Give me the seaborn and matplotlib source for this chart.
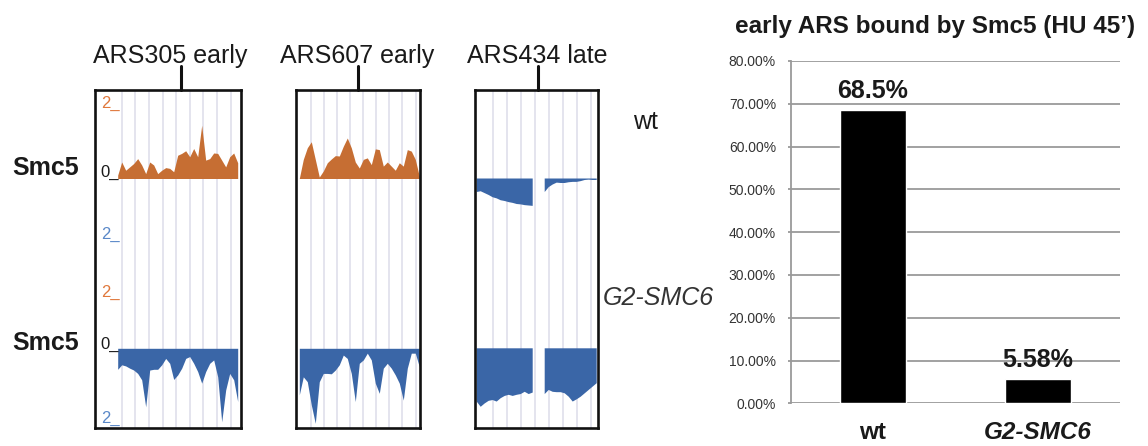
import numpy as np
import pandas as pd
import matplotlib
matplotlib.use("Agg")
import matplotlib.pyplot as plt
import seaborn as sns
from matplotlib.ticker import PercentFormatter
from matplotlib.lines import Line2D

# ---------------- data ----------------
nan = np.nan
loci = ["ARS305 early", "ARS607 early", "ARS434 late"]
strain_rows = ["wt", "G2-SMC6"]

# Smc5 ChIP signal (4-px bins); positive = orange, negative = blue
ars305_wt = [0.09, 0.44, 0.22, 0.31, 0.40, 0.53, 0.36, 0.13, 0.44, 0.36, 0.13,
             0.22, 0.29, 0.27, 0.18, 0.62, 0.67, 0.74, 0.58, 0.80, 0.58, 1.42,
             0.49, 0.53, 0.68, 0.67, 0.49, 0.31, 0.58, 0.68, 0.42]
ars305_g2 = [-0.56, -0.44, -0.47, -0.53, -0.58, -0.67, -0.84, -1.56, -0.58,
             -0.56, -0.56, -0.44, -0.27, -0.40, -0.83, -0.71, -0.53, -0.27,
             -0.22, -0.40, -0.62, -0.93, -0.62, -0.40, -0.31, -0.76, -1.96,
             -1.11, -0.67, -0.84, -1.42]
ars607_wt = [0.0, 0.51, 0.82, 0.98, 0.51, 0.04, 0.20, 0.42, 0.52, 0.61, 0.60,
             0.86, 1.08, 0.82, 0.44, 0.28, 0.51, 0.55, 0.37, 0.79, 0.77, 0.33,
             0.44, 0.33, 0.22, 0.42, 0.33, 0.77, 0.73, 0.51, 0.06]
ars607_g2 = [-1.24, -0.76, -0.89, -1.51, -2.00, -0.89, -0.67, -0.67, -0.68,
             -0.58, -0.44, -0.18, -0.27, -0.67, -1.42, -0.40, -0.31, -0.13,
             -0.31, -0.93, -1.20, -0.53, -0.40, -0.53, -0.71, -0.93, -1.38,
             -0.53, -0.13, -0.13, -0.49]
ars434_wt = [-0.36, -0.34, -0.39, -0.44, -0.50, -0.53, -0.58, -0.60, -0.63,
             -0.65, -0.68, -0.69, -0.71, -0.72, -0.73, nan, nan, -0.36, -0.23,
             -0.16, -0.11, -0.12, -0.12, -0.10, -0.09, -0.09, -0.07, -0.04,
             -0.03, -0.04, -0.04]
ars434_g2 = [-1.42, -1.56, -1.47, -1.40, -1.38, -1.42, -1.33, -1.27, -1.24,
             -1.27, -1.24, -1.22, -1.16, -1.22, -1.18, nan, nan, -1.22, -1.11,
             -1.16, -1.17, -1.17, -1.20, -1.29, -1.42, -1.36, -1.29, -1.20,
             -1.11, -1.02, -0.93]

# bar chart
bar_title = "early ARS bound by Smc5 (HU 45\u2019)"
strains = ["wt", "G2-SMC6"]
bound_pct = [68.5, 5.58]
pct_ticks = [0, 10, 20, 30, 40, 50, 60, 70, 80]

# ---------------- style ----------------
sns.set_theme(style="white")
plt.rcParams["font.family"] = ["Liberation Sans", "DejaVu Sans"]

W, H = 1148, 446
ORANGE = "#C66E33"
BLUE = "#3A66A7"
LAB_OR = "#E0783C"
LAB_BL = "#5A88C8"
GRIDC = "#DCDCEA"
TXT = "#1a1a1a"


def fx(p):
    return p / W


def fy(p):
    return 1 - p / H


fig = plt.figure(figsize=(W / 100, H / 100), dpi=100)

# boxes: (left px, right px, first-sample px, first grid px, grid spacing px, n grid, tick px)
boxes = [
    (95, 241, 117.7, 121.7, 13.6, 9, 180.5),
    (296, 420, 299.3, 310.7, 13.1, 9, 358.0),
    (475, 598, 476.7, 492.7, 14.0, 8, 537.5),
]
title_cx = [170, 357.5, 537.5]
tracks = [(ars305_wt, ars305_g2), (ars607_wt, ars607_g2), (ars434_wt, ars434_g2)]

BOX_TOP, BOX_MID, BOX_BOT = 90, 263, 428
SCALE = 37.5  # px per unit
ZERO_TOP, ZERO_BOT = 178.5, 348.3
BIN = 4.0


def draw_track(ax, vals, xl, yl, grid):
    v = np.array(vals, dtype=float)
    x = np.arange(len(v))
    for g in grid:
        ax.axvline(g, color=GRIDC, lw=1.1, zorder=0)
    ax.fill_between(x, 0, v, where=np.nan_to_num(v, nan=-9) >= 0, interpolate=True,
                    color=ORANGE, lw=0, zorder=2)
    ax.fill_between(x, 0, v, where=np.nan_to_num(v, nan=9) <= 0, interpolate=True,
                    color=BLUE, lw=0, zorder=2)
    ax.set_xlim(*xl)
    ax.set_ylim(*yl)
    ax.set_axis_off()


for (l, r, s0, g0, gs, ng, tk), (wt, g2), name, cx in zip(boxes, tracks, loci, title_cx):
    xl = (-(s0 - l) / BIN, (r - s0) / BIN)
    grid = [(g0 - s0) / BIN + i * gs / BIN for i in range(ng)]
    ax_t = fig.add_axes([fx(l), fy(BOX_MID), (r - l) / W, (BOX_MID - BOX_TOP) / H])
    draw_track(ax_t, wt, xl,
               (-(BOX_MID - ZERO_TOP) / SCALE, (ZERO_TOP - BOX_TOP) / SCALE), grid)
    ax_b = fig.add_axes([fx(l), fy(BOX_BOT), (r - l) / W, (BOX_BOT - BOX_MID) / H])
    draw_track(ax_b, g2, xl,
               (-(BOX_BOT - ZERO_BOT) / SCALE, (ZERO_BOT - BOX_MID) / SCALE), grid)
    frame = fig.add_axes([fx(l), fy(BOX_BOT), (r - l) / W, (BOX_BOT - BOX_TOP) / H])
    frame.set_facecolor("none")
    frame.set_xticks([])
    frame.set_yticks([])
    for sp in frame.spines.values():
        sp.set_visible(True)
        sp.set_color("#111111")
        sp.set_linewidth(1.9)
    frame.set_zorder(5)
    fig.text(fx(cx), fy(63), name, ha="center", va="baseline", fontsize=18, color=TXT)
    fig.add_artist(Line2D([fx(tk), fx(tk)], [fy(66), fy(90)], color="#111111", lw=2.2))

# scale labels in first box
scale_labels = [("2_", LAB_OR, 101.5, 108.3), ("0_", TXT, 100.0, 177.0),
                ("2_", LAB_BL, 101.5, 239.0), ("2_", LAB_OR, 101.5, 296.7),
                ("0_", TXT, 100.0, 349.0), ("2_", LAB_BL, 101.5, 422.7)]
for txt, col, px, py in scale_labels:
    fig.text(fx(px), fy(py), txt, color=col, fontsize=12, va="baseline", ha="left",
             zorder=10)

# row labels
fig.text(fx(12.7), fy(175), "Smc5", fontsize=18, fontweight="bold", va="baseline", color=TXT)
fig.text(fx(12.7), fy(350), "Smc5", fontsize=18, fontweight="bold", va="baseline", color=TXT)
fig.text(fx(633), fy(129), strain_rows[0], fontsize=18, va="baseline", color=TXT)
fig.text(fx(603), fy(305), strain_rows[1], fontsize=18, fontstyle="italic", va="baseline",
         color="#333333")

# ---------------- bar chart ----------------
AX_L, AX_R, AX_T, AX_B = 790.5, 1120, 61, 403.3
ax = fig.add_axes([fx(AX_L), fy(AX_B), (AX_R - AX_L) / W, (AX_B - AX_T) / H])
df = pd.DataFrame({"strain": strains, "bound": bound_pct})
sns.barplot(data=df, x="strain", y="bound", color="black", saturation=1, width=0.4,
            ax=ax, zorder=3)
ax.set_ylim(0, 80)
ax.set_xlim(-0.5, 1.5)
ax.set_yticks(pct_ticks)
ax.yaxis.set_major_formatter(PercentFormatter(100, decimals=2))
ax.yaxis.grid(True, color="#9a9a9a", lw=1.3)
ax.set_axisbelow(True)
ax.set_xlabel("")
ax.set_ylabel("")
for s in ["top", "right", "bottom"]:
    ax.spines[s].set_visible(False)
ax.spines["left"].set_color("#9a9a9a")
ax.spines["left"].set_linewidth(1.3)
ax.tick_params(axis="y", left=True, length=2, width=1.3, color="#9a9a9a", pad=8.5,
               labelsize=10, labelcolor="#333333")
ax.tick_params(axis="x", length=0, pad=12.5, labelsize=17.5)
for lab in ax.get_xticklabels():
    lab.set_fontweight("bold")
    lab.set_color(TXT)
ax.get_xticklabels()[1].set_fontstyle("italic")
for i, v in enumerate(bound_pct):
    ax.annotate(f"{v}%", (i, v), xytext=(0, 9), textcoords="offset points",
                ha="center", va="baseline", fontsize=18, fontweight="bold", color=TXT)

fig.text(fx(935.5), fy(33), bar_title, ha="center", va="baseline", fontsize=17.5,
         fontweight="bold", color=TXT)

fig.savefig("out.png", dpi=100)
